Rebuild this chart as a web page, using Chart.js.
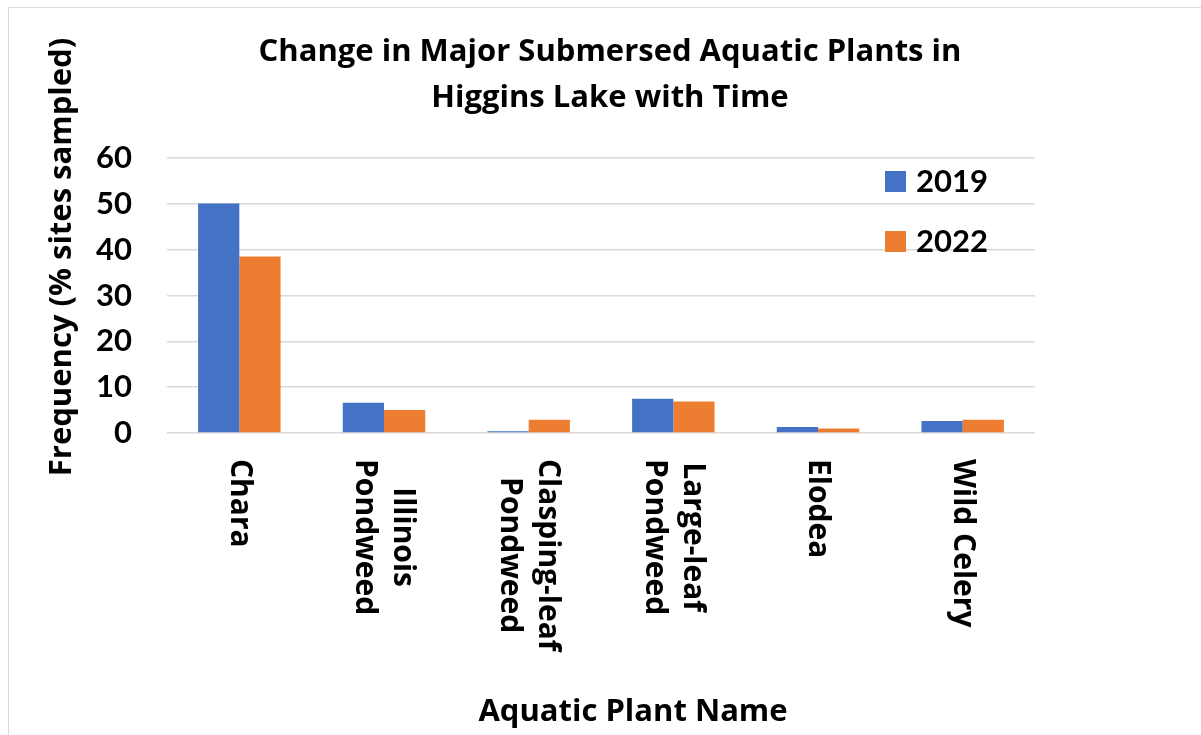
<!DOCTYPE html>
<html>
<head>
<meta charset="utf-8">
<script src="https://cdn.jsdelivr.net/npm/chart.js@4/dist/chart.umd.min.js"></script>
<style>
  html, body { margin: 0; padding: 0; background: #fff; }
  #wrap { position: relative; width: 1201px; height: 735px; overflow: hidden; }
  #frame { position: absolute; left: 8px; top: 7px; width: 1300px; height: 800px; border: 1px solid #d9d9d9; pointer-events: none; }
</style>
</head>
<body>
<div id="wrap">
  <canvas id="graphique" width="1201" height="735"></canvas>
  <div id="frame"></div>
</div>
<script>
const titleLines = ['Change in Major Submersed Aquatic Plants in', 'Higgins Lake with Time'];
const yTitle = 'Frequency (% sites sampled)';
const xTitle = 'Aquatic Plant Name';

// multi-line category labels (first line is drawn on the right)
const categories = [
   ['Chara'],
   ['Illinois', 'Pondweed'],
   ['Clasping-leaf', 'Pondweed'],
   ['Large-leaf', 'Pondweed'],
   ['Elodea'],
   ['Wild Celery']
];
const values2019 = [50.1, 6.6, 0.4, 7.5, 1.3, 2.6];
const values2022 = [38.5, 5.0, 2.9, 6.9, 1.0, 2.9];
const yMin = 0, yMax = 60, yStep = 10;

const FONT = '"Open Sans", Lato, sans-serif';
const NUM_FONT = 'Lato, "Open Sans", sans-serif';
const ctx = document.getElementById('graphique');

// draws title, axis titles, rotated category labels and the legend
const textPlugin = {
   id: 'texts',
   afterDraw(chart) {
      const c = chart.ctx;
      const area = chart.chartArea;
      const x = chart.scales.x;
      c.save();
      c.fillStyle = '#000';

      // title
      c.font = 'bold 31px ' + FONT;
      c.textAlign = 'center';
      c.textBaseline = 'middle';
      titleLines.forEach((t, i) => c.fillText(t, 610, 52 + i * 46));

      // y axis title
      c.save();
      c.translate(62, 257);
      c.rotate(-Math.PI / 2);
      c.fillText(yTitle, 0, 0);
      c.restore();

      // x axis title
      c.fillText(xTitle, 633, 712);

      // category labels, rotated clockwise
      c.font = 'bold 30px ' + FONT;
      const top = area.bottom + 26;
      const lineGap = 38;
      categories.forEach((lines, i) => {
         const cx = x.getPixelForValue(i);
         const maxW = Math.max(...lines.map(l => c.measureText(l).width));
         c.save();
         c.translate(cx + (lines.length - 1) * lineGap / 2, top);
         c.rotate(Math.PI / 2);
         lines.forEach((l, j) => c.fillText(l, maxW / 2, j * lineGap));
         c.restore();
      });

      // legend
      c.font = 'bold 31px ' + NUM_FONT;
      c.textAlign = 'left';
      chart.data.datasets.forEach((ds, i) => {
         const y = 181 + i * 60;
         c.fillStyle = ds.backgroundColor;
         c.fillRect(885, y - 10, 21, 21);
         c.fillStyle = '#000';
         c.fillText(ds.label, 916, y + 1);
      });
      c.restore();
   }
};

const myChart = new Chart(ctx, {
   type: 'bar',
   data: {
      labels: categories,
      datasets: [{
         label: '2019',
         data: values2019,
         backgroundColor: '#4472C4'
      }, {
         label: '2022',
         data: values2022,
         backgroundColor: '#ED7D31'
      }]
   },
   options: {
      responsive: false,
      animation: false,
      events: [],
      layout: {
         padding: { top: 158, bottom: 294, left: 0, right: 166 }
      },
      datasets: {
         bar: { categoryPercentage: 0.57, barPercentage: 1 }
      },
      scales: {
         x: {
            ticks: { display: false },
            grid: { display: false },
            border: { display: false }
         },
         y: {
            min: yMin,
            max: yMax,
            afterFit(scale) { scale.width = 167; },
            ticks: {
               stepSize: yStep,
               padding: 35,
               color: '#000',
               font: { family: NUM_FONT, size: 31, weight: 'bold' }
            },
            grid: {
               color: '#d9d9d9',
               lineWidth: 1.5,
               drawTicks: false
            },
            border: { display: false }
         }
      },
      plugins: {
         legend: { display: false },
         title: { display: false },
         tooltip: { enabled: false }
      }
   },
   plugins: [textPlugin]
});
</script>
</body>
</html>
